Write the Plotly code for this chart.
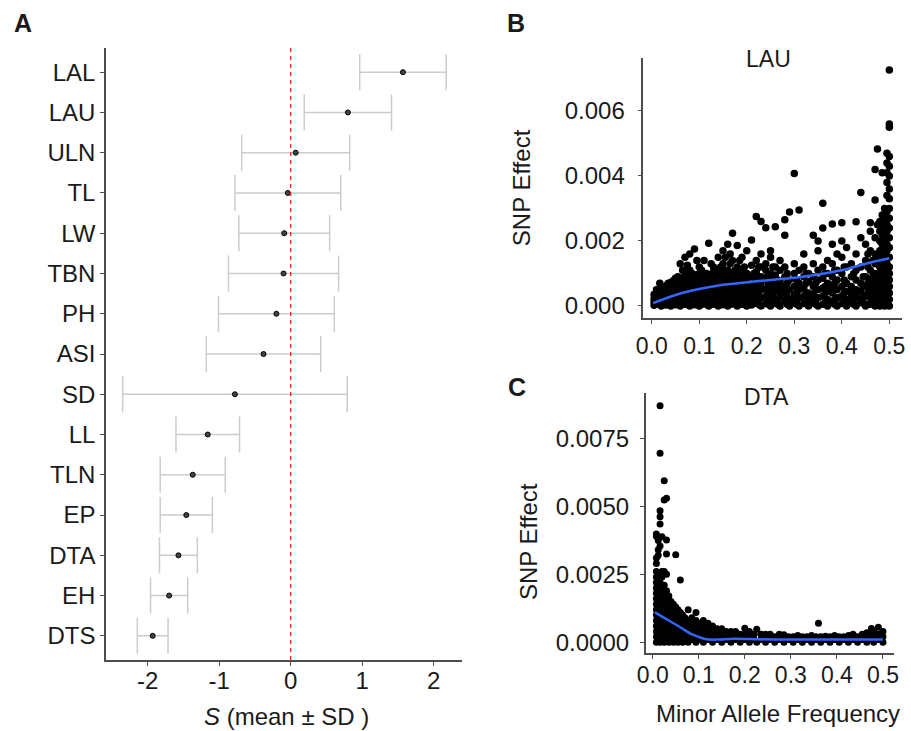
import plotly.graph_objects as go

W, H = 911, 731

# Panel A: selection coefficient S per trait (mean and SD)
traits = ["LAL", "LAU", "ULN", "TL", "LW", "TBN", "PH", "ASI",
          "SD", "LL", "TLN", "EP", "DTA", "EH", "DTS"]
s_mean = [1.57, 0.80, 0.07, -0.04, -0.09, -0.10, -0.20, -0.38,
          -0.78, -1.16, -1.37, -1.46, -1.57, -1.70, -1.93]
s_sd = [0.605, 0.61, 0.755, 0.74, 0.635, 0.77, 0.81, 0.80,
        1.57, 0.445, 0.455, 0.365, 0.265, 0.26, 0.215]

# Panel B: LAU, SNP effect vs minor allele frequency (columns of points)
lau_maf = [0.005, 0.01, 0.017, 0.02, 0.03, 0.04, 0.05, 0.06, 0.07, 0.08, 0.09, 0.10,
           0.11, 0.12, 0.13, 0.14, 0.15, 0.16, 0.17, 0.18, 0.19, 0.20,
           0.21, 0.22, 0.23, 0.24, 0.25, 0.26, 0.27, 0.28, 0.29, 0.30,
           0.31, 0.32, 0.33, 0.34, 0.35, 0.36, 0.37, 0.38, 0.39, 0.40,
           0.41, 0.42, 0.43, 0.44, 0.45, 0.46, 0.47, 0.475, 0.48, 0.485,
           0.49, 0.495, 0.50,
           0.015, 0.025, 0.035, 0.045, 0.055, 0.065, 0.075, 0.085, 0.095, 0.105,
           0.115, 0.125, 0.135, 0.145, 0.155, 0.165, 0.175, 0.185, 0.195,
           0.215, 0.225, 0.245, 0.255, 0.265, 0.285, 0.305, 0.325, 0.345, 0.365,
           0.385, 0.405, 0.425, 0.445, 0.455, 0.465]
lau_effect = [
    [0.00002, 0.00012, 0.00022, 0.00035],
    [0.00005, 0.00015, 0.00028, 0.0004, 0.0005],
    [0.0007],
    [0.0, 0.0001, 0.0002, 0.00032, 0.00045, 0.0006],
    [0.00003, 0.00014, 0.00025, 0.00038, 0.0005, 0.00062],
    [0.0, 0.00011, 0.00022, 0.00035, 0.00048, 0.0006, 0.00072],
    [0.00004, 0.00016, 0.00028, 0.0004, 0.00055, 0.00068, 0.00085],
    [0.0, 0.0001, 0.00024, 0.00036, 0.0005, 0.00062, 0.00078, 0.0013],
    [0.00005, 0.00018, 0.0003, 0.00045, 0.00058, 0.0007, 0.00095, 0.0015],
    [0.0, 0.00012, 0.00026, 0.00039, 0.00052, 0.00066, 0.0008, 0.0011, 0.0016],
    [0.00004, 0.00017, 0.0003, 0.00044, 0.0006, 0.00075, 0.0009, 0.00175],
    [0.0, 0.00013, 0.00027, 0.0004, 0.00055, 0.0007, 0.00085, 0.001, 0.0012],
    [0.00006, 0.0002, 0.00034, 0.00048, 0.00063, 0.0008, 0.0014],
    [0.0, 0.00014, 0.00028, 0.00042, 0.00058, 0.00072, 0.0009, 0.00193],
    [0.00005, 0.00019, 0.00033, 0.0005, 0.00065, 0.0008, 0.00105, 0.0012],
    [0.0, 0.00012, 0.00026, 0.0004, 0.00055, 0.0007, 0.00088, 0.0015],
    [0.00004, 0.00018, 0.00032, 0.00047, 0.0006, 0.00078, 0.00095, 0.0013, 0.0017],
    [0.0, 0.00013, 0.00027, 0.00041, 0.00056, 0.0007, 0.00085, 0.0011, 0.0019],
    [0.00006, 0.0002, 0.00035, 0.0005, 0.00065, 0.0008, 0.001, 0.0014, 0.00224],
    [0.0, 0.00015, 0.0003, 0.00044, 0.0006, 0.00078, 0.0012, 0.00186],
    [0.00005, 0.0002, 0.00036, 0.0005, 0.00068, 0.00088, 0.0011, 0.0015],
    [0.0, 0.00012, 0.00028, 0.00045, 0.0006, 0.0008, 0.001, 0.0017],
    [0.00003, 0.0002, 0.0004, 0.0006, 0.0009, 0.00125, 0.00203],
    [0.0001, 0.00035, 0.00055, 0.00075, 0.00105, 0.0014, 0.00275],
    [0.0, 0.00025, 0.0005, 0.0007, 0.0009, 0.0012, 0.0016, 0.0026],
    [0.00008, 0.0003, 0.00052, 0.00085, 0.0011, 0.0013, 0.00241],
    [0.0, 0.0002, 0.0004, 0.0006, 0.0008, 0.001, 0.0015, 0.0017],
    [0.0001, 0.00045, 0.0007, 0.00095, 0.0012, 0.00244],
    [0.0, 0.0003, 0.0005, 0.00075, 0.0011, 0.0014],
    [0.00015, 0.0004, 0.0006, 0.0009, 0.0012, 0.00218, 0.00265],
    [0.0, 0.0002, 0.0005, 0.0008, 0.00289],
    [0.0001, 0.00035, 0.0006, 0.001, 0.0013, 0.00408],
    [0.0, 0.00025, 0.0005, 0.0007, 0.0011, 0.00295],
    [0.00008, 0.0003, 0.00055, 0.0009, 0.0012, 0.0016],
    [0.0, 0.0002, 0.0004, 0.00075, 0.001],
    [0.0001, 0.00035, 0.0006, 0.0009, 0.0013, 0.00218],
    [0.0, 0.00025, 0.0005, 0.0008, 0.0011, 0.0017, 0.002],
    [0.00005, 0.0003, 0.00055, 0.00085, 0.0012, 0.0024, 0.00316],
    [0.0, 0.0002, 0.00045, 0.0007, 0.001, 0.0014],
    [0.0001, 0.0004, 0.0006, 0.0009, 0.0013, 0.0019, 0.00252],
    [0.0, 0.00025, 0.0005, 0.0008, 0.0011, 0.0016],
    [0.00008, 0.0003, 0.0006, 0.001, 0.0015, 0.002, 0.00256],
    [0.0, 0.0002, 0.00045, 0.0007, 0.0012, 0.0018],
    [0.0001, 0.00035, 0.0006, 0.0009, 0.0013],
    [0.0, 0.0003, 0.0005, 0.0008, 0.0011, 0.0016, 0.00259],
    [0.0001, 0.0002, 0.00045, 0.0007, 0.0012, 0.0021, 0.00349],
    [0.0, 0.0003, 0.0006, 0.0009, 0.0014, 0.0019],
    [0.00005, 0.00025, 0.0005, 0.0008, 0.0011, 0.0017, 0.0023, 0.00256],
    [0.0, 0.0002, 0.0004, 0.0007, 0.001, 0.0013, 0.0016, 0.0021, 0.0042, 0.00326],
    [0.0001, 0.0005, 0.0009, 0.0015, 0.0025, 0.00483],
    [0.0, 0.00018, 0.00038, 0.0006, 0.0008, 0.001, 0.0012, 0.0014, 0.0017, 0.002, 0.0023, 0.0026],
    [0.0001, 0.0003, 0.0005, 0.0007, 0.0009, 0.0011, 0.0013, 0.0016, 0.0019, 0.0022, 0.0025, 0.0028, 0.0041],
    [0.0, 0.0002, 0.0004, 0.0006, 0.0008, 0.001, 0.0012, 0.0014, 0.0016, 0.0018, 0.002, 0.0022,
     0.0024, 0.0026, 0.0028, 0.003],
    [0.0001, 0.0003, 0.0005, 0.0007, 0.0009, 0.0011, 0.0013, 0.0015, 0.0017, 0.0019, 0.0021,
     0.0023, 0.0025, 0.0027, 0.0029, 0.0034, 0.0038, 0.0041, 0.0044, 0.0047],
    [0.0, 0.0002, 0.0004, 0.0006, 0.0008, 0.001, 0.0012, 0.0015, 0.0018, 0.0021, 0.0024, 0.0027,
     0.003, 0.0033, 0.0036, 0.004, 0.0043, 0.0046, 0.0055, 0.0056, 0.00726],
    # in-between columns of the dense cloud
    [0.00008, 0.0002, 0.00033, 0.00046],
    [0.00006, 0.00019, 0.0003, 0.00042, 0.00055],
    [0.00008, 0.0002, 0.00031, 0.00044, 0.00057, 0.0007],
    [0.00006, 0.00018, 0.0003, 0.00043, 0.00056, 0.00066, 0.00078],
    [0.00008, 0.0002, 0.00033, 0.00046, 0.0006, 0.00074, 0.0009],
    [0.00005, 0.00017, 0.0003, 0.00042, 0.00056, 0.0007, 0.00085, 0.0011],
    [0.00008, 0.00022, 0.00035, 0.0005, 0.00064, 0.00078, 0.0009, 0.00125],
    [0.00006, 0.0002, 0.00033, 0.00046, 0.0006, 0.00073, 0.00088, 0.001],
    [0.00008, 0.00022, 0.00036, 0.0005, 0.00066, 0.0008, 0.00096, 0.0014],
    [0.00006, 0.0002, 0.00034, 0.00048, 0.00062, 0.00078, 0.00092, 0.0011],
    [0.00008, 0.00024, 0.00038, 0.00053, 0.00068, 0.00085, 0.001],
    [0.00006, 0.0002, 0.00035, 0.0005, 0.00065, 0.0008, 0.00098, 0.0013],
    [0.00008, 0.00024, 0.0004, 0.00056, 0.0007, 0.00088, 0.0011],
    [0.00006, 0.0002, 0.00034, 0.0005, 0.00064, 0.0008, 0.001, 0.0012],
    [0.00008, 0.00024, 0.0004, 0.00055, 0.0007, 0.00087, 0.0011, 0.0015],
    [0.00006, 0.0002, 0.00034, 0.0005, 0.00064, 0.0008, 0.00098, 0.0013, 0.0016],
    [0.00008, 0.00024, 0.0004, 0.00056, 0.0007, 0.0009, 0.0011],
    [0.00006, 0.0002, 0.00036, 0.0005, 0.00068, 0.00085, 0.001, 0.0014],
    [0.00008, 0.00024, 0.0004, 0.00057, 0.00072, 0.0009, 0.0012],
    [0.00008, 0.0003, 0.0005, 0.0007, 0.001],
    [0.00005, 0.0002, 0.0004, 0.0006, 0.0009, 0.0012],
    [0.00005, 0.0002, 0.0004, 0.0007, 0.001],
    [0.0001, 0.0003, 0.0005, 0.0009, 0.0012],
    [0.00005, 0.0002, 0.0006, 0.0008],
    [0.00005, 0.0003, 0.0007, 0.001],
    [0.00005, 0.0002, 0.0004, 0.0008],
    [0.0001, 0.0004, 0.0007, 0.001],
    [0.00005, 0.0002, 0.0005, 0.0007],
    [0.0001, 0.0004, 0.0006, 0.001],
    [0.00005, 0.0002, 0.0005, 0.0007, 0.0011],
    [0.0001, 0.0004, 0.0008, 0.0012],
    [0.00005, 0.0002, 0.0005, 0.001],
    [0.0001, 0.0003, 0.0006, 0.0009],
    [0.00005, 0.0004, 0.0007, 0.0012, 0.0016],
    [0.0001, 0.0003, 0.0006, 0.0009, 0.0014],
]
lau_fit_x = [0.003, 0.05, 0.1, 0.15, 0.2, 0.25, 0.3, 0.35, 0.4, 0.45, 0.5]
lau_fit_y = [0.00009, 0.00034, 0.00052, 0.00065, 0.00073, 0.0008, 0.00087, 0.00097, 0.0011, 0.0013, 0.00147]

# Panel C: DTA, SNP effect vs minor allele frequency
dta_maf = [0.008, 0.012, 0.016, 0.02, 0.025, 0.03, 0.035, 0.04, 0.045, 0.05, 0.055, 0.06,
           0.065, 0.07, 0.077, 0.085, 0.094, 0.102, 0.11, 0.12, 0.13, 0.14, 0.15, 0.16,
           0.17, 0.18, 0.19, 0.20, 0.21, 0.22, 0.226, 0.235, 0.245, 0.255, 0.265, 0.275,
           0.285, 0.295, 0.305, 0.315, 0.325, 0.335, 0.345, 0.355, 0.36, 0.365, 0.375, 0.385,
           0.395, 0.405, 0.415, 0.425, 0.435, 0.445, 0.455, 0.465, 0.475, 0.48, 0.49, 0.50]
dta_effect = [
    [0.0, 0.0002, 0.0004, 0.0006, 0.0008, 0.001, 0.0012, 0.0014, 0.0016, 0.0018, 0.002,
     0.0022, 0.0024, 0.0026, 0.0029, 0.0031, 0.0039, 0.00398],
    [0.0001, 0.0003, 0.0005, 0.0007, 0.0009, 0.0011, 0.0013, 0.0015, 0.0017, 0.0019, 0.0021,
     0.0023, 0.0025, 0.0032, 0.0034, 0.00374],
    [0.0, 0.0002, 0.0004, 0.0006, 0.0008, 0.001, 0.0012, 0.0014, 0.0016, 0.0018, 0.002,
     0.0022, 0.0025, 0.00354, 0.00435, 0.00462, 0.00484, 0.0087, 0.00695],
    [0.0001, 0.0003, 0.0005, 0.0007, 0.0009, 0.0011, 0.0013, 0.0015, 0.0017, 0.0019, 0.0021,
     0.0024, 0.0026, 0.00388],
    [0.0, 0.0002, 0.0004, 0.0006, 0.0008, 0.001, 0.0012, 0.0014, 0.0016, 0.0018, 0.0021,
     0.0026, 0.00523, 0.00594],
    [0.0001, 0.0003, 0.0005, 0.0007, 0.0009, 0.0011, 0.0013, 0.0015, 0.0019, 0.0025,
     0.00325, 0.00376, 0.0053],
    [0.0, 0.0002, 0.0004, 0.0006, 0.0008, 0.001, 0.0012, 0.0014, 0.0017],
    [0.0001, 0.0003, 0.0005, 0.0007, 0.0009, 0.0011, 0.0013, 0.0015],
    [0.0, 0.0002, 0.0004, 0.0006, 0.0008, 0.001, 0.0012, 0.0014],
    [0.0001, 0.0003, 0.0005, 0.0007, 0.0009, 0.0011, 0.0013, 0.00322],
    [0.0, 0.0002, 0.0004, 0.0006, 0.0008, 0.001, 0.0012],
    [0.0001, 0.0003, 0.0005, 0.0007, 0.0009, 0.0011, 0.00229],
    [0.0, 0.0002, 0.0004, 0.0006, 0.0008, 0.001],
    [0.0001, 0.0003, 0.0005, 0.0007, 0.0009],
    [0.0, 0.0002, 0.0004, 0.0006, 0.0008, 0.0012],
    [0.0001, 0.0003, 0.0005, 0.0007, 0.0009],
    [0.0, 0.0002, 0.0004, 0.0006, 0.0008, 0.0011],
    [0.0001, 0.0003, 0.0005, 0.0007],
    [0.0, 0.0002, 0.0004, 0.0006, 0.0008],
    [0.0001, 0.0003, 0.0005, 0.0007],
    [0.0, 0.0002, 0.0004, 0.0006],
    [0.0001, 0.0003, 0.0005],
    [0.0, 0.0002, 0.0004, 0.0005],
    [0.0001, 0.0003, 0.0004],
    [0.0, 0.0002, 0.0004],
    [0.0001, 0.0003, 0.0004],
    [0.0, 0.0002, 0.0003],
    [0.0001, 0.0003, 0.00052],
    [0.0, 0.0002, 0.0004],
    [0.0001, 0.0003],
    [0.0, 0.00048],
    [0.0001, 0.0003],
    [0.0, 0.0002, 0.0003],
    [0.0001, 0.0003],
    [0.0, 0.0002],
    [0.0001, 0.0003],
    [0.0, 0.0002, 0.00028],
    [0.0001, 0.0002],
    [0.0, 0.0002],
    [0.0001, 0.00025],
    [0.0, 0.0002],
    [0.0001, 0.0002],
    [0.0, 0.00025],
    [0.0001, 0.0002],
    [0.0007],
    [0.0, 0.0002],
    [0.0001, 0.00022],
    [0.0, 0.0002],
    [0.0001, 0.00025],
    [0.0, 0.0002],
    [0.0001, 0.0002],
    [0.0, 0.00025],
    [0.0001, 0.0003],
    [0.0, 0.0002],
    [0.0001, 0.0003],
    [0.0, 0.0002, 0.00035],
    [0.0001, 0.0003, 0.00051],
    [0.0, 0.0002, 0.0004],
    [0.0001, 0.0003, 0.00055],
    [0.0, 0.0002, 0.0004],
]
dta_fit_x = [0.005, 0.027, 0.045, 0.065, 0.081, 0.1, 0.117, 0.14, 0.175, 0.23, 0.29, 0.4, 0.5]
dta_fit_y = [0.0011, 0.00088, 0.0007, 0.0005, 0.00033, 0.0002, 0.00011, 0.0001, 0.00013, 0.00011, 0.0001, 0.0001, 0.0001]


def flatten(xs, cols):
    px, py = [], []
    for x, ys in zip(xs, cols):
        for y in ys:
            px.append(x)
            py.append(y)
    return px, py


def fx(p):
    return p / W


def fy(p):
    return 1 - p / H


FONT = "Liberation Sans, Arial, sans-serif"
INK = "#1a1a1a"
AXC = "#4d4d4d"

fig = go.Figure()

# Panel A
fig.add_trace(go.Scatter(
    x=s_mean, y=traits, mode="markers",
    marker=dict(size=5, color="#444444", line=dict(color="#000000", width=1)),
    error_x=dict(type="data", array=s_sd, symmetric=True, color="#cccccc",
                 thickness=1.5, width=18),
    xaxis="x", yaxis="y", showlegend=False,
))

bx, by = flatten(lau_maf, lau_effect)
fig.add_trace(go.Scatter(x=bx, y=by, mode="markers", marker=dict(size=7.5, color="#000000"),
                         xaxis="x2", yaxis="y2", showlegend=False))
fig.add_trace(go.Scatter(x=lau_fit_x, y=lau_fit_y, mode="lines", line=dict(color="#3366FF", width=2.5, shape="spline", smoothing=0.8),
                         xaxis="x2", yaxis="y2", showlegend=False))

cx, cy = flatten(dta_maf, dta_effect)
fig.add_trace(go.Scatter(x=cx, y=cy, mode="markers", marker=dict(size=7, color="#000000"),
                         xaxis="x3", yaxis="y3", showlegend=False))
fig.add_trace(go.Scatter(x=dta_fit_x, y=dta_fit_y, mode="lines", line=dict(color="#3366FF", width=2.5, shape="spline", smoothing=0.8),
                         xaxis="x3", yaxis="y3", showlegend=False))


def ax(size=24, **kw):
    d = dict(showgrid=False, zeroline=False, showline=True, linecolor=AXC, linewidth=1.5,
             ticks="outside", ticklen=4, tickcolor=AXC, tickwidth=1, automargin=False,
             tickfont=dict(family=FONT, size=size, color=INK))
    d.update(kw)
    return d


fig.update_layout(
    width=W, height=H, autosize=False,
    margin=dict(l=0, r=0, t=0, b=0),
    plot_bgcolor="white", paper_bgcolor="white",
    font=dict(family=FONT, color=INK),
    xaxis=ax(domain=[fx(106), fx(462)], range=[-2.583, 2.396], anchor="y",
             tickvals=[-2, -1, 0, 1, 2], ticktext=["-2", "-1", "0", "1", "2"],
             ticklabelstandoff=-6),
    yaxis=ax(domain=[fy(660), fy(48)], anchor="x", type="category",
             categoryorder="array", categoryarray=traits[::-1], range=[-0.6, 14.6]),
    xaxis2=ax(23, domain=[fx(643.3), fx(901.7)], range=[-0.0177, 0.526], anchor="y2",
              tickvals=[0, 0.1, 0.2, 0.3, 0.4, 0.5], tickformat=".1f", ticklabelstandoff=3),
    yaxis2=ax(24, domain=[fy(318), fy(58)], range=[-0.00037, 0.00763], anchor="x2",
              tickvals=[0, 0.002, 0.004, 0.006], tickformat=".3f", ticklabelstandoff=8),
    xaxis3=ax(23, domain=[fx(645.7), fx(894)], range=[-0.0152, 0.524], anchor="y3",
              tickvals=[0, 0.1, 0.2, 0.3, 0.4, 0.5], tickformat=".1f", ticklabelstandoff=-4),
    yaxis3=ax(24, domain=[fy(653.3), fy(393.3)], range=[-0.000404, 0.009154], anchor="x3",
              tickvals=[0, 0.0025, 0.005, 0.0075], tickformat=".4f", ticklabelstandoff=6),
)

# red dashed reference line at S = 0
fig.add_shape(type="line", xref="x", yref="paper", x0=0, x1=0, y0=fy(660), y1=fy(48),
              line=dict(color="#e8261f", width=1.3, dash="4px,4px"))

ann = [
    dict(text="<b>A</b>", x=fx(23), y=fy(23), size=25),
    dict(text="<b>B</b>", x=fx(516), y=fy(22.5), size=25),
    dict(text="<b>C</b>", x=fx(517), y=fy(386.7), size=25),
    dict(text="LAU", x=fx(768), y=fy(58.7), size=23),
    dict(text="DTA", x=fx(766.7), y=fy(396.7), size=23),
    dict(text="<i>S</i> (mean ± SD )", x=fx(286), y=fy(716), size=24),
    dict(text="Minor Allele Frequency", x=fx(778), y=fy(713), size=24),
]
for a in ann:
    fig.add_annotation(text=a["text"], x=a["x"], y=a["y"], xref="paper", yref="paper",
                       xanchor="center", yanchor="middle", showarrow=False,
                       font=dict(family=FONT, size=a["size"], color=INK))

for xc, yc in [(521.7, 187.5), (528, 542)]:
    fig.add_annotation(text="SNP Effect", x=fx(xc), y=fy(yc), xref="paper", yref="paper",
                       xanchor="center", yanchor="middle", showarrow=False, textangle=-90,
                       font=dict(family=FONT, size=24, color=INK))

# page body has a default 8px margin; drop it so the figure fills the window
fig.write_html("out.html", config={"displayModeBar": False},
               post_script="document.body.style.margin='0';")
